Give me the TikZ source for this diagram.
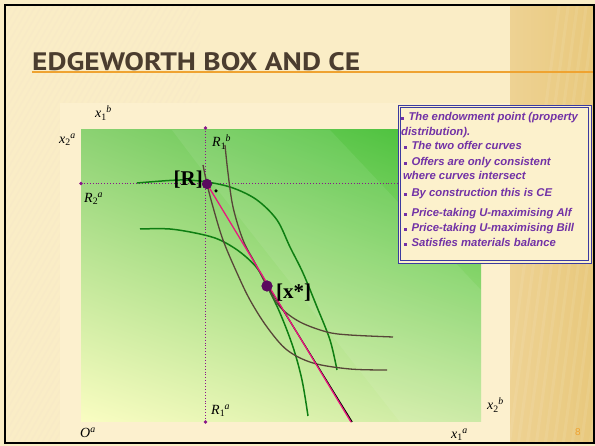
\documentclass[tikz,border=0pt]{standalone}
\usepackage{fontspec}
\setmainfont{Liberation Serif}
\newfontfamily\boxfont{Liberation Sans}
\newfontfamily\titlefont{PT Sans}
\usetikzlibrary{shadings}
\definecolor{cream}{HTML}{FAEDC6}
\definecolor{panel}{HTML}{FCF0CE}
\definecolor{woodA}{HTML}{EED293}
\definecolor{woodB}{HTML}{E8C87C}
\definecolor{titlec}{HTML}{4B3D2F}
\definecolor{orng}{HTML}{EFA331}
\definecolor{dotc}{HTML}{8A158A}
\definecolor{dotdark}{HTML}{5A0A5E}
\definecolor{gcurve}{HTML}{0E7E12}
\definecolor{bcurve}{HTML}{574538}
\definecolor{pinkc}{HTML}{E8197D}
\definecolor{txtc}{HTML}{7232A6}
\definecolor{boxline}{HTML}{3B3BA0}
\definecolor{boxfill}{HTML}{FCF1CC}
\definecolor{gLL}{HTML}{FAFDC2}
\definecolor{gUL}{HTML}{8CD273}
\definecolor{gUR}{HTML}{40BF33}
\definecolor{gLR}{HTML}{C8E9A0}
\newcommand{\lbl}[3]{\textit{#1}\textsubscript{#2}\textsuperscript{\kern-0.05em\textit{#3}}}
\newcommand{\bul}{\rule[1.2pt]{2.8pt}{2.8pt}\hspace{4.5pt}}
\tikzset{
  lab/.style={font=\fontsize{14}{14}\selectfont, inner sep=0pt, anchor=west, text=black},
  bt/.style={font=\boxfont\fontsize{11.3}{12}\selectfont\bfseries\itshape, text=txtc, inner sep=0pt, anchor=base west},
  dotln/.style={dotc, dotted, line width=0.9pt},
  gc/.style={gcurve, line width=1.5pt},
  bc/.style={bcurve, line width=1.3pt},
  bigl/.style={font=\fontsize{21}{21}\selectfont\bfseries, inner sep=0pt, text=black},
  pt/.style={circle, fill=dotdark, inner sep=0pt},
}
\begin{document}
\begin{tikzpicture}[x=1pt,y=-1pt]
\useasboundingbox (0,0) rectangle (595,446);
% background
\fill[cream] (0,0) rectangle (595,446);
\begin{scope}
  \clip (5,5) rectangle (200,103) (5,103) rectangle (60,443);
  \foreach \a in {-260,-254,...,200} {
    \draw[color=brown!30, opacity=0.12, line width=1.6pt] (\a,446) -- (\a+257,0);
  }
\end{scope}
\fill[panel] (60,103) rectangle (510,443);
\shade[left color=woodA, right color=woodB] (510,5) rectangle (594,443);
\begin{scope}
  \clip (510,5) rectangle (594,443);
  \foreach \a in {500,509,...,620} {
    \draw[white, opacity=0.08, line width=3pt] (\a,446) -- (\a+60,0);
  }
\end{scope}
% title
\draw[orng, line width=1.6pt] (32,72) -- (595,72);
\node[anchor=south west, inner sep=0pt, text=titlec] (title) at (32,71.5)
  {\resizebox{328pt}{18pt}{\titlefont\bfseries EDGEWORTH BOX AND CE}};
% green box
\shade[lower left=gLL, upper left=gUL, upper right=gUR, lower right=gLR] (81,130) rectangle (481,422);
\fill[white, opacity=0.08] (172,130) -- (330,130) -- (481,290) -- (481,422) -- (400,422) -- (206,175) -- cycle;
% dotted lines
\coordinate (vt) at (205.5,128);
\coordinate (vb) at (205.5,422);
\coordinate (hl) at (81,183.5);
\coordinate (hr) at (398,183.5);
\draw[dotln] (vt) -- (vb);
\draw[dotln] (hl) -- (hr);
\fill[dotc] (vt) circle (1.8) (vb) circle (1.8) (hl) circle (1.8);
% curves
\draw[gc] plot[smooth, tension=0.55] coordinates {(137,183) (180,180) (207,182) (233,188) (257,200) (277,220) (290,247) (303,273) (317,307) (330,340) (337,370)};
\draw[gc] plot[smooth, tension=0.55] coordinates {(140,229) (170,229) (200,234) (220,240) (240,252) (257,268) (267,286) (280,313) (293,347) (302,380) (308,416)};
\draw[bc] plot[smooth, tension=0.55] coordinates {(225,145) (228,173) (233,207) (243,240) (255,263) (267,286) (280,307) (300,322) (327,332) (350,335) (393,337)};
\draw[bc] plot[smooth, tension=0.55] coordinates {(203,165) (207,184) (213,207) (223,240) (237,273) (250,300) (267,327) (287,350) (313,363) (350,369) (387,370)};
% price line
\coordinate (pe) at (351,422);
\node[pt, minimum size=10pt] (R) at (207,184) {};
\node[pt, minimum size=11pt] (X) at (267,286) {};
\draw[black, line width=1.2pt] ([xshift=1.2pt]X.center) -- ([xshift=1.2pt]pe);
\draw[pinkc, line width=1.3pt] (R.center) -- (pe);
\node[pt, minimum size=10pt] at (207,184) {};
\node[pt, minimum size=11pt] at (267,286) {};
\node[circle, fill=black, inner sep=0pt, minimum size=3.5pt] (rd) at (216,191) {};
% big labels
\node[bigl, anchor=east] (Rl) at (203,180) {[R]};
\node[bigl, anchor=west] (Xl) at (276,293) {[x*]};
% axis labels
\node[lab] (x1b) at (95,113) {\lbl{x}{1}{b}};
\node[lab] (x2a) at (59,140) {\lbl{x}{2}{a}};
\node[lab] (R1b) at (212,142) {\lbl{R}{1}{b}};
\node[lab] (R2a) at (84,199) {\lbl{R}{2}{a}};
\node[lab] (R1a) at (211,411) {\lbl{R}{1}{a}};
\node[lab] (Oa) at (80,433) {\textit{O}\textsuperscript{\textit{a}}};
\node[lab] (x1a) at (451,435) {\lbl{x}{1}{a}};
\node[lab] (x2b) at (487,405) {\lbl{x}{2}{b}};
\node[inner sep=0pt, text=orng, font=\boxfont\fontsize{10}{10}\selectfont] (pg) at (578,432) {8};
% text box
\draw[boxline, line width=0.8pt, fill=boxfill] (398,105) rectangle (591,263);
\draw[boxline, line width=0.6pt] (400.5,107.5) rectangle (588.5,260.5);
\node[bt] (t1) at (401,121) {\bul The endowment point (property};
\node[bt] (t2) at (401,136) {distribution).};
\node[bt] (t3) at (404,150) {\bul The two offer curves};
\node[bt] (t4) at (404,166) {\bul Offers are only consistent};
\node[bt] (t5) at (403,180) {where curves intersect};
\node[bt] (t6) at (404,197) {\bul By construction this is CE};
\node[bt] (t7) at (404,217) {\bul Price-taking U-maximising Alf};
\node[bt] (t8) at (404,232) {\bul Price-taking U-maximising Bill};
\node[bt] (t9) at (404,247) {\bul Satisfies materials balance};
% frame
\draw[black, line width=2.4pt] (5,5) rectangle (594,443);
\end{tikzpicture}
\end{document}
